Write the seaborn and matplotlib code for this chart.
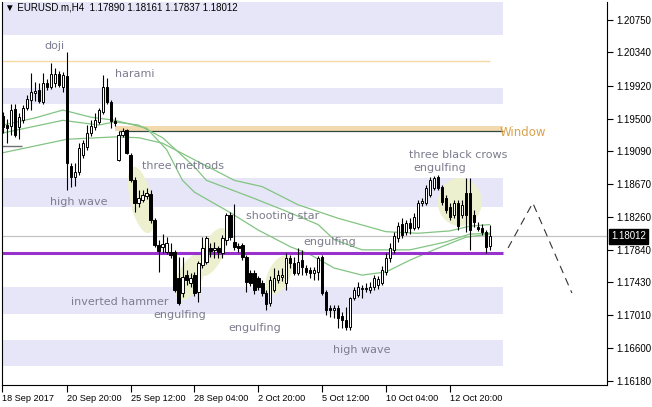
import numpy as np
import pandas as pd
import matplotlib
matplotlib.use("Agg")
import matplotlib.pyplot as plt
import seaborn as sns
from matplotlib.patches import Ellipse, Rectangle
from matplotlib.transforms import ScaledTranslation

sns.set_theme(style="white")
plt.rcParams["font.family"] = ["DejaVu Sans"]

# ---------------- data (EURUSD.m H4, 18 Sep 2017 04:00 .. 16 Oct 2017 12:00) -------------
opens = [1.1953, 1.1942, 1.1941, 1.1962, 1.1940, 1.1948, 1.1964, 1.1974, 1.1983, 1.1986,
         1.1971, 1.1995, 1.1990, 1.1995, 1.2007, 1.1990, 1.2004, 1.1890, 1.1876, 1.1883,
         1.1904, 1.1914, 1.1932, 1.1940, 1.1946, 1.1959, 1.1990, 1.1971, 1.1947, 1.1898,
         1.1929, 1.1936, 1.1904, 1.1872, 1.1843, 1.1847, 1.1852, 1.1855, 1.1822, 1.1790,
         1.1788, 1.1781, 1.1781, 1.1781, 1.1748, 1.1729, 1.1752, 1.1742, 1.1752, 1.1731,
         1.1765, 1.1769, 1.1786, 1.1784, 1.1786, 1.1780, 1.1797, 1.1828, 1.1794, 1.1789,
         1.1790, 1.1775, 1.1755, 1.1755, 1.1748, 1.1742, 1.1729, 1.1717, 1.1733, 1.1746,
         1.1750, 1.1742, 1.1774, 1.1767, 1.1755, 1.1771, 1.1761, 1.1759, 1.1755, 1.1756,
         1.1775, 1.1731, 1.1710, 1.1708, 1.1710, 1.1700, 1.1695, 1.1686, 1.1723, 1.1727,
         1.1735, 1.1736, 1.1733, 1.1737, 1.1740, 1.1742, 1.1756, 1.1774, 1.1784, 1.1799,
         1.1817, 1.1807, 1.1818, 1.1812, 1.1813, 1.1843, 1.1843, 1.1853, 1.1862, 1.1876,
         1.1864, 1.1850, 1.1838, 1.1828, 1.1843, 1.1828, 1.1856, 1.1856, 1.1828, 1.1813,
         1.1812, 1.1807, 1.17890]
closes = [1.1940, 1.1938, 1.1961, 1.1929, 1.1952, 1.1964, 1.1975, 1.1984, 1.1985, 1.1973,
          1.1995, 1.1990, 1.2007, 1.2007, 1.1993, 1.2005, 1.1894, 1.1876, 1.1883, 1.1913,
          1.1919, 1.1932, 1.1941, 1.1948, 1.1961, 1.1990, 1.1971, 1.1947, 1.1945, 1.1929,
          1.1934, 1.1907, 1.1872, 1.1843, 1.1850, 1.1854, 1.1856, 1.1822, 1.1790, 1.1783,
          1.1791, 1.1793, 1.1778, 1.1733, 1.1717, 1.1750, 1.1746, 1.1748, 1.1729, 1.1767,
          1.1786, 1.1799, 1.1783, 1.1786, 1.1781, 1.1799, 1.1828, 1.1800, 1.1788, 1.1786,
          1.1775, 1.1743, 1.1742, 1.1733, 1.1737, 1.1729, 1.1716, 1.1746, 1.1748, 1.1752,
          1.1752, 1.1774, 1.1767, 1.1755, 1.1769, 1.1762, 1.1756, 1.1755, 1.1759, 1.1774,
          1.1729, 1.1708, 1.1708, 1.1710, 1.1698, 1.1695, 1.1686, 1.1723, 1.1733, 1.1737,
          1.1736, 1.1735, 1.1737, 1.1748, 1.1747, 1.1758, 1.1774, 1.1786, 1.1802, 1.1814,
          1.1803, 1.1818, 1.1812, 1.1826, 1.1843, 1.1846, 1.1862, 1.1872, 1.1875, 1.1862,
          1.1845, 1.1834, 1.1826, 1.1843, 1.1814, 1.1841, 1.1828, 1.1809, 1.1819, 1.1810,
          1.1807, 1.1788, 1.18012]
highs = [1.1958, 1.1950, 1.1969, 1.1969, 1.1957, 1.1967, 1.1980, 1.2008, 1.1997, 1.1995,
         1.2008, 1.2000, 1.2021, 1.2014, 1.2010, 1.2009, 1.2034, 1.1894, 1.1894, 1.1919,
         1.1923, 1.1942, 1.1948, 1.1957, 1.1964, 1.2005, 1.2002, 1.1974, 1.1952, 1.1934,
         1.1938, 1.1937, 1.1907, 1.1876, 1.1860, 1.1860, 1.1862, 1.1860, 1.1824, 1.1797,
         1.1804, 1.1800, 1.1793, 1.1784, 1.1775, 1.1775, 1.1758, 1.1755, 1.1756, 1.1770,
         1.1800, 1.1802, 1.1793, 1.1794, 1.1789, 1.1803, 1.1831, 1.1832, 1.1842, 1.1793,
         1.1793, 1.1778, 1.1758, 1.1758, 1.1751, 1.1746, 1.1733, 1.1751, 1.1761, 1.1758,
         1.1761, 1.1780, 1.1778, 1.1775, 1.1786, 1.1784, 1.1765, 1.1762, 1.1762, 1.1776,
         1.1778, 1.1733, 1.1714, 1.1714, 1.1714, 1.1705, 1.1712, 1.1724, 1.1737, 1.1743,
         1.1740, 1.1742, 1.1743, 1.1752, 1.1751, 1.1764, 1.1780, 1.1793, 1.1807, 1.1819,
         1.1824, 1.1822, 1.1824, 1.1831, 1.1847, 1.1850, 1.1866, 1.1876, 1.1878, 1.1879,
         1.1866, 1.1853, 1.1843, 1.1847, 1.1847, 1.1847, 1.1875, 1.1875, 1.1834, 1.1819,
         1.1817, 1.1809, 1.18161]
lows = [1.1932, 1.1919, 1.1929, 1.1927, 1.1924, 1.1945, 1.1961, 1.1961, 1.1973, 1.1970,
        1.1969, 1.1986, 1.1988, 1.1990, 1.1990, 1.1984, 1.1860, 1.1864, 1.1865, 1.1879,
        1.1900, 1.1910, 1.1928, 1.1936, 1.1943, 1.1956, 1.1969, 1.1938, 1.1941, 1.1897,
        1.1927, 1.1905, 1.1870, 1.1832, 1.1838, 1.1845, 1.1848, 1.1818, 1.1788, 1.1756,
        1.1780, 1.1779, 1.1774, 1.1731, 1.1714, 1.1724, 1.1740, 1.1737, 1.1726, 1.1718,
        1.1761, 1.1766, 1.1775, 1.1774, 1.1774, 1.1774, 1.1790, 1.1797, 1.1784, 1.1781,
        1.1771, 1.1731, 1.1738, 1.1728, 1.1733, 1.1726, 1.1708, 1.1713, 1.1731, 1.1742,
        1.1745, 1.1733, 1.1761, 1.1752, 1.1752, 1.1752, 1.1752, 1.1748, 1.1746, 1.1746,
        1.1727, 1.1702, 1.1699, 1.1698, 1.1685, 1.1685, 1.1683, 1.1683, 1.1721, 1.1724,
        1.1723, 1.1731, 1.1729, 1.1733, 1.1735, 1.1740, 1.1752, 1.1769, 1.1780, 1.1794,
        1.1799, 1.1803, 1.1804, 1.1809, 1.1810, 1.1840, 1.1841, 1.1851, 1.1860, 1.1860,
        1.1841, 1.1831, 1.1822, 1.1824, 1.1809, 1.1824, 1.1807, 1.1784, 1.1813, 1.1808,
        1.1803, 1.1780, 1.17837]

# moving averages (bar index, price)
ma_slow_idx = [0, 16, 28, 34, 40, 48, 58, 65, 74, 84, 96, 104, 112, 117, 122]
ma_slow = [1.1907, 1.1924, 1.1927, 1.1926, 1.1919, 1.1898, 1.1872, 1.1864, 1.1841, 1.1824,
           1.1807, 1.1805, 1.1808, 1.1814, 1.1816]
ma_mid_idx = [0, 15, 24, 28, 34, 40, 48, 51, 62, 70, 79, 83, 90, 102, 111, 117, 122]
ma_mid = [1.1932, 1.1948, 1.1942, 1.1946, 1.1942, 1.1926, 1.1889, 1.1872, 1.1851, 1.1835,
          1.1816, 1.1797, 1.1784, 1.1784, 1.1794, 1.1804, 1.1805]
ma_fast_idx = [0, 8, 15, 22, 28, 36, 41, 45, 48, 57, 64, 72, 77, 83, 90, 96, 102, 108, 116, 122]
ma_fast = [1.1942, 1.1951, 1.1961, 1.1952, 1.1948, 1.1938, 1.1911, 1.1872, 1.1857, 1.1831,
           1.1809, 1.1788, 1.1778, 1.1761, 1.1752, 1.1756, 1.1771, 1.1784, 1.1800, 1.1804]

# horizontal zones / levels
zone_lo = [1.20560, 1.19687, 1.18383, 1.17028, 1.16370]
zone_hi = [1.20978, 1.19889, 1.18750, 1.17370, 1.16699]
support_level = 1.17800
resistance_level = 1.20231
old_level = 1.19155
last_price = 1.18012

# projection path
proj_idx = [126.6, 132.8, 142.6]
proj_price = [1.17864, 1.18434, 1.17294]

# pattern labels: (text, bar index, price)
labels = ["doji", "harami", "high wave", "three methods", "shooting star", "engulfing",
          "inverted hammer", "engulfing", "engulfing", "high wave", "three black crows", "engulfing"]
label_idx = [13, 33, 19, 45, 70, 82, 29.3, 44.4, 63, 90, 114, 109.5]
label_price = [1.20421, 1.20066, 1.18446, 1.18902, 1.18269, 1.17940,
               1.17180, 1.17016, 1.16851, 1.16573, 1.19041, 1.18877]

# highlighted pattern ellipses: centre (bar index, price)
ell_idx = [34.6, 46.9, 52.6, 69.2, 114.5]
ell_price = [1.18471, 1.17497, 1.17813, 1.17522, 1.18446]

xtick_idx = [-0.25, 16, 32, 48, 64, 80, 96, 112]
xtick_labels = ["18 Sep 2017", "20 Sep 20:00", "25 Sep 12:00", "28 Sep 04:00",
                "2 Oct 20:00", "5 Oct 12:00", "10 Oct 04:00", "12 Oct 20:00"]
ytick_vals = [1.16180, 1.16600, 1.17010, 1.17430, 1.17840, 1.18260, 1.18670,
              1.19090, 1.19500, 1.19920, 1.20340, 1.20750]

df = pd.DataFrame({"o": opens, "h": highs, "l": lows, "c": closes})
df["i"] = np.arange(len(df))

# ---------------- figure ----------------
fig = plt.figure(figsize=(6.52, 4.07), dpi=100)
fig.patch.set_facecolor("white")
ax = fig.add_axes([2 / 652, 22 / 407, 605 / 652, 383 / 407])
ax.set_facecolor("white")
XMAX = 151.4
ZONE_END = 125.3
ax.set_xlim(-0.25, XMAX)
ax.set_ylim(1.16129, 1.20978)

# zones
for lo, hi in zip(zone_lo, zone_hi):
    ax.add_patch(Rectangle((-0.25, lo), ZONE_END + 0.25, hi - lo, facecolor="#E6E6F8",
                           edgecolor="none", zorder=0))

# window (weekend gap): between bar 28 low and bar 29 high
gap_lo, gap_hi = highs[29], lows[28]
ax.add_patch(Rectangle((28, gap_lo), ZONE_END - 28, gap_hi - gap_lo, facecolor="#F3D9AE",
                       edgecolor="none", zorder=1))
ax.hlines(gap_lo, 29, ZONE_END, color="#2E4A40", lw=0.9, zorder=1.5)
ax.text(124.6, gap_lo - 0.0001, "Window", ha="left", va="center", color="#D9A24E", fontsize=8.5)

# levels
ax.hlines(resistance_level, -0.25, 122, color="#F6D9A2", lw=1.0, zorder=1)
ax.hlines(old_level, -0.25, 4.8, color="#707070", lw=1.0, zorder=1)
ax.axhline(last_price, color="#C4C4C4", lw=0.9, zorder=1)

# ellipses (sized in pixels, centred in data)
ell_w = [22, 24, 22, 22, 44]
ell_h = [68, 50, 52, 42, 48]
ell_ang = [13, -25, -25, -25, 0]
for cx, cy, w, h, a in zip(ell_idx, ell_price, ell_w, ell_h, ell_ang):
    tr = fig.dpi_scale_trans + ScaledTranslation(cx, cy, ax.transData)
    e = Ellipse((0, 0), w / 100, h / 100, angle=a, transform=tr,
                facecolor="#EDF0CF", edgecolor="none", zorder=1.2)
    ax.add_patch(e)

# moving averages
ma_df = pd.concat([
    pd.DataFrame({"i": ma_slow_idx, "p": ma_slow, "ma": "slow"}),
    pd.DataFrame({"i": ma_mid_idx, "p": ma_mid, "ma": "mid"}),
    pd.DataFrame({"i": ma_fast_idx, "p": ma_fast, "ma": "fast"}),
])
sns.lineplot(data=ma_df, x="i", y="p", hue="ma", palette=["#82C482"] * 3, legend=False,
             estimator=None, sort=False, lw=0.9, ax=ax, zorder=2)

# support line
ax.hlines(support_level, -0.25, ZONE_END, color="#9932CC", lw=2.2, zorder=2.5)

# candles
bull = df["c"] >= df["o"]
ax.vlines(df["i"], df["l"], df["h"], color="black", lw=0.8, zorder=3)
body_lo = np.minimum(df["o"], df["c"])
body_h = np.maximum(np.abs(df["c"] - df["o"]), 0.00008)
ax.bar(df["i"], body_h, bottom=body_lo, width=0.6,
       color=np.where(bull, "white", "black"), edgecolor="black", linewidth=0.7, zorder=4)

# projection
proj_df = pd.DataFrame({"i": proj_idx, "p": proj_price})
sns.lineplot(data=proj_df, x="i", y="p", color="#333333", lw=0.8, ax=ax,
             estimator=None, sort=False, zorder=3)
ax.lines[-1].set_dashes([7, 5])

# labels
for s, xi, yp in zip(labels, label_idx, label_price):
    ax.text(xi, yp, s, ha="center", va="center", fontsize=8, color="#7C7C8E", zorder=5)

# axes styling
for side in ["left", "right", "bottom"]:
    ax.spines[side].set_visible(True)
    ax.spines[side].set_color("black")
    ax.spines[side].set_linewidth(0.8)
ax.spines["top"].set_visible(False)
ax.yaxis.tick_right()
ax.set_yticks(ytick_vals)
ax.set_yticklabels([f"{v:.5f}" for v in ytick_vals], fontsize=7, family="Liberation Sans")
ax.set_xticks(xtick_idx)
ax.set_xticklabels(xtick_labels, fontsize=6.6, family="Liberation Sans")
for t in ax.get_xticklabels():
    t.set_ha("left")
ax.tick_params(axis="y", which="both", right=True, left=False, length=4, width=0.8,
               color="black", pad=3, labelcolor="black")
ax.tick_params(axis="x", which="both", bottom=True, length=5, width=0.8, color="black",
               pad=1.5, labelcolor="black")
ax.set_xlabel("")
ax.set_ylabel("")
ax.grid(False)

# current price tag
ax.annotate(f"{last_price:.5f}", xy=(1.0, last_price), xycoords=("axes fraction", "data"),
            xytext=(3, 0), textcoords="offset points", ha="left", va="center",
            fontsize=7, family="Liberation Sans", color="white", annotation_clip=False,
            bbox=dict(boxstyle="square,pad=0.25", fc="black", ec="black"))

# title
fig.text(5 / 652, 1 - 7 / 407, "\u25bc EURUSD.m,H4  1.17890 1.18161 1.17837 1.18012",
         ha="left", va="center", fontsize=7, family="Liberation Sans", color="black")

fig.savefig("out.png", dpi=100)
